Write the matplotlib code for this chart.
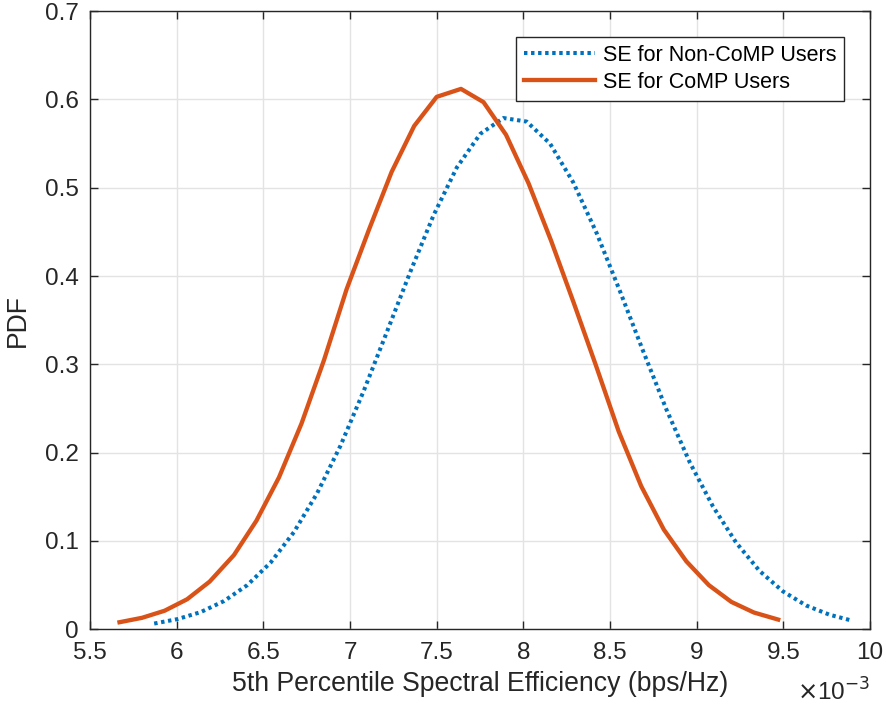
import matplotlib
matplotlib.use("Agg")
import matplotlib.pyplot as plt

# x values in units of 1e-3 bps/Hz
comp_x = [5.67, 5.80, 5.93, 6.06, 6.19, 6.33, 6.46, 6.59, 6.72, 6.85,
          6.98, 7.11, 7.24, 7.37, 7.50, 7.64, 7.77, 7.90, 8.03, 8.16,
          8.29, 8.42, 8.55, 8.68, 8.81, 8.94, 9.07, 9.20, 9.33, 9.47]
comp_pdf = [0.008, 0.013, 0.021, 0.034, 0.054, 0.084, 0.123, 0.172, 0.233, 0.305,
            0.385, 0.453, 0.518, 0.570, 0.603, 0.612, 0.597, 0.560, 0.505, 0.440,
            0.370, 0.298, 0.224, 0.162, 0.113, 0.077, 0.050, 0.031, 0.019, 0.011]

noncomp_x = [5.870, 6.004, 6.139, 6.273, 6.407, 6.542, 6.676, 6.810, 6.945, 7.079,
             7.213, 7.348, 7.482, 7.616, 7.751, 7.885, 8.019, 8.154, 8.288, 8.422,
             8.557, 8.691, 8.825, 8.960, 9.094, 9.228, 9.363, 9.497, 9.631, 9.766, 9.900]
noncomp_pdf = [0.0065, 0.0115, 0.0195, 0.032, 0.050, 0.0756, 0.110, 0.154, 0.208, 0.270,
               0.337, 0.405, 0.469, 0.523, 0.561, 0.579, 0.575, 0.550, 0.506, 0.449,
               0.383, 0.315, 0.249, 0.189, 0.139, 0.098, 0.066, 0.043, 0.027, 0.0165, 0.0096]

xticks = [5.5, 6, 6.5, 7, 7.5, 8, 8.5, 9, 9.5, 10]
xticklabels = ["5.5", "6", "6.5", "7", "7.5", "8", "8.5", "9", "9.5", "10"]
yticks = [0, 0.1, 0.2, 0.3, 0.4, 0.5, 0.6, 0.7]
yticklabels = ["0", "0.1", "0.2", "0.3", "0.4", "0.5", "0.6", "0.7"]

plt.rcParams["font.family"] = ["Liberation Sans", "DejaVu Sans"]
axcol = "#262626"

fig = plt.figure(figsize=(8.87, 7.13), dpi=100)
ax = fig.add_axes([0.1015, 0.1174, 0.8794, 0.8669])

ax.plot(noncomp_x, noncomp_pdf, color="#0072BD", lw=2.9,
        linestyle=(0, (0.85, 0.9)), dash_capstyle="butt", label="SE for Non-CoMP Users")
ax.plot(comp_x, comp_pdf, color="#D95319", lw=3.1, label="SE for CoMP Users")

ax.set_xlim(5.5, 10)
ax.set_ylim(0, 0.7)
ax.set_xticks(xticks)
ax.set_xticklabels(xticklabels)
ax.set_yticks(yticks)
ax.set_yticklabels(yticklabels)

ax.grid(True, color="#e3e3e3", lw=1.0)
ax.set_axisbelow(True)
for s in ax.spines.values():
    s.set_color(axcol)
    s.set_linewidth(1.0)
ax.tick_params(direction="in", length=6, width=1, color=axcol, labelcolor=axcol,
               labelsize=17.5, top=True, right=True)
ax.tick_params(axis="x", pad=9)
ax.tick_params(axis="y", pad=8)

ax.set_xlabel("5th Percentile Spectral Efficiency (bps/Hz)", fontsize=19.2, color=axcol, labelpad=5)
ax.set_ylabel("PDF", fontsize=19.2, color=axcol, labelpad=10)
ax.text(1.0, -0.08, r"$\times$10$^{-3}$", transform=ax.transAxes, ha="right", va="top",
        fontsize=17.5, color=axcol)

leg = ax.legend(loc="upper right", fontsize=15.5, fancybox=False, framealpha=1,
                edgecolor=axcol, handlelength=3.3, borderaxespad=1.2, handletextpad=0.4,
                borderpad=0.35, labelspacing=0.3)
leg.get_frame().set_linewidth(1.0)

fig.savefig("out.png", dpi=100)
